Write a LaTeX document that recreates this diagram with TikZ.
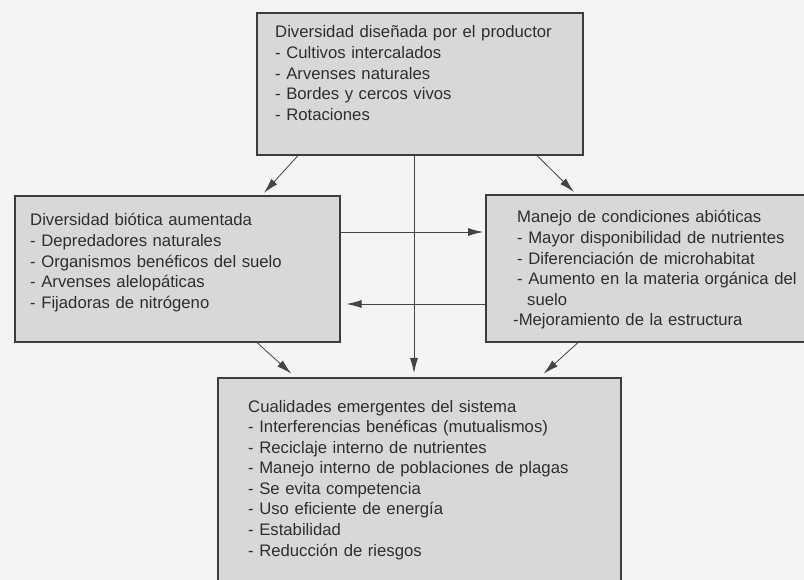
\documentclass[tikz,border=0pt]{standalone}
\usepackage{fontspec}
\setmainfont{Liberation Sans}
\usetikzlibrary{arrows.meta}
\definecolor{paper}{HTML}{F4F4F4}
\definecolor{boxfill}{HTML}{D8D8D8}
\definecolor{boxline}{HTML}{3C3C3C}
\definecolor{ink}{HTML}{2E2E2E}
\definecolor{arrowgray}{HTML}{444444}

\begin{document}
\begin{tikzpicture}[x=1pt,y=-1pt,
  box/.style={draw=boxline,fill=boxfill,line width=1.6pt,anchor=north west,inner sep=0pt},
  txt/.style={anchor=base west,inner sep=0pt,text width=400pt,align=left,text=ink,
              font=\fontsize{16.7}{20.6}\selectfont},
  arr/.style={draw=arrowgray,line width=0.8pt,-{Latex[length=15pt,width=8pt]}}]
  \useasboundingbox (0,0) rectangle (804,580);
  \clip (0,0) rectangle (804,580);
  \fill[paper] (0,0) rectangle (804,580);
  \node[box,minimum width=326pt,minimum height=142pt] (prod)  at (256,12)  {};
  \node[box,minimum width=325pt,minimum height=146pt] (biot)  at (14,195)  {};
  \node[box,minimum width=330pt,minimum height=147pt] (abiot) at (485,194) {};
  \node[box,minimum width=403pt,minimum height=220pt] (emerg) at (217,377) {};
  \node[txt] (tprod) at (275,38) {Diversidad diseñada por el productor\\
    - Cultivos intercalados\\- Arvenses naturales\\- Bordes y cercos vivos\\- Rotaciones};
  \node[txt] (tbiot) at (30,226) {Diversidad biótica aumentada\\
    - Depredadores naturales\\- Organismos benéficos del suelo\\- Arvenses alelopáticas\\
    - Fijadoras de nitrógeno};
  \node[txt] (tabiot) at (517,223) {Manejo de condiciones abióticas\\
    - Mayor disponibilidad de nutrientes\\- Diferenciación de microhabitat\\
    - Aumento en la materia orgánica del\\\hspace*{10pt}suelo\\
    \hspace*{-4pt}-Mejoramiento de la estructura};
  \node[txt] (temerg) at (248,412) {Cualidades emergentes del sistema\\
    - Interferencias benéficas (mutualismos)\\- Reciclaje interno de nutrientes\\
    - Manejo interno de poblaciones de plagas\\- Se evita competencia\\
    - Uso eficiente de energía\\- Estabilidad\\- Reducción de riesgos};
  \draw[arr,shorten >=3pt] (298,0 |- prod.south) -- (262,0 |- biot.north);
  \draw[arr,shorten >=3pt] (537,0 |- prod.south) -- (576,0 |- abiot.north);
  \draw[arr,shorten >=4pt] (414,0 |- prod.south) -- (414,0 |- emerg.north);
  \draw[arr,shorten >=2pt] (biot.east |- 0,232) -- (abiot.west |- 0,232);
  \draw[arr,shorten >=6pt] (abiot.west |- 0,304) -- (biot.east |- 0,304);
  \draw[arr,shorten >=5pt] (257,0 |- biot.south) -- (295,0 |- emerg.north);
  \draw[arr,shorten >=5pt] (578,0 |- abiot.south) -- (540,0 |- emerg.north);
\end{tikzpicture}
\end{document}
